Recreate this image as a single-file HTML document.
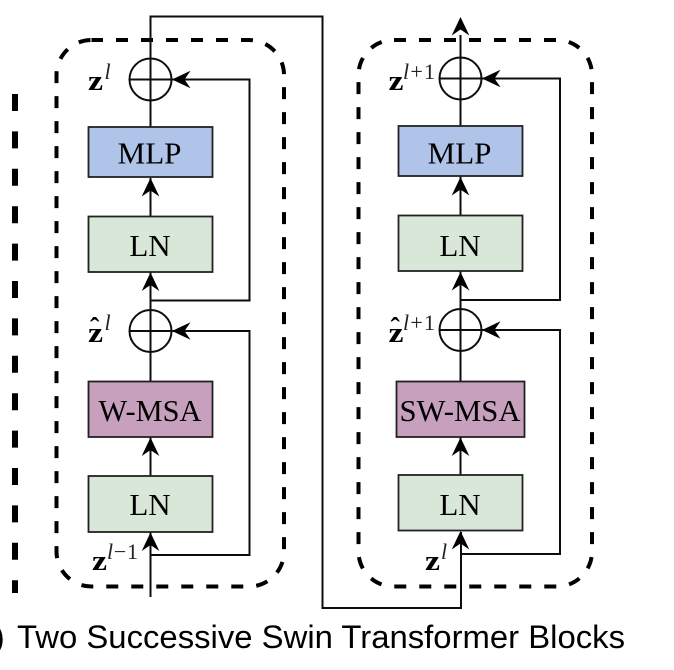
<!DOCTYPE html>
<html>
<head>
<meta charset="utf-8">
<style>
html,body{margin:0;padding:0;background:#fff}
svg{display:block}
.b{stroke:#222;stroke-width:1.8}
.t{font-family:"Liberation Serif",serif;font-size:31px;text-anchor:middle;fill:#000}
.z{font-family:"Liberation Serif",serif;font-size:28px;font-weight:bold;fill:#000}
.s{font-family:"Liberation Serif",serif;font-size:22px;fill:#222}
.i{font-style:italic}
.l{fill:none;stroke:#111;stroke-width:2}
.d{fill:none;stroke:#000;stroke-width:4;stroke-dasharray:12 13}
</style>
</head>
<body>
<svg width="674" height="670" viewBox="0 0 674 670" xmlns="http://www.w3.org/2000/svg">
<defs>
<path id="u" d="M0 0L8.8 18.5L0 12.5L-8.8 18.5Z" fill="#000"/>
<path id="h" d="M0 0L18.5 -8.8L12.5 0L18.5 8.8Z" fill="#000"/>
<filter id="f" x="-2%" y="-2%" width="104%" height="104%"><feGaussianBlur stdDeviation="0.35"/></filter>
</defs>
<rect width="674" height="670" fill="#fff"/>
<g filter="url(#f)">

<!-- Outer left dashed -->
<path d="M15 94V593" fill="none" stroke="#000" stroke-width="6" stroke-dasharray="17 20.4"/>

<!-- Dashed containers -->
<rect x="56.5" y="40" width="227.5" height="546.5" rx="35" class="d" stroke-dashoffset="0.5"/>
<rect x="358.5" y="40" width="233.5" height="546.5" rx="35" class="d" stroke-dashoffset="-0.5"/>

<!-- Connectors -->
<path class="l" d="M150.5 127V16.5H322.5V608H461V532"/>
<path class="l" d="M150.5 216V178M150.5 476V437M150.5 597V532M150.5 381V272"/>
<path class="l" d="M172 79.5H249.5V300.5H150.5"/>
<path class="l" d="M172 331H249.5V555H150.5"/>
<path class="l" d="M460.5 126V35M460.5 215V176M460.5 475V437M460.5 381V271"/>
<path class="l" d="M482 78.5H560V300H460.5"/>
<path class="l" d="M482 330H560V554H460.5"/>

<!-- Boxes left -->
<rect x="88.5" y="127" width="124" height="50" fill="#afc4e8" class="b"/>
<rect x="88.5" y="216.5" width="124" height="55.5" fill="#d9e7d8" class="b"/>
<rect x="88.5" y="381.5" width="124" height="55.5" fill="#c6a0bd" class="b"/>
<rect x="88.5" y="476" width="124" height="56" fill="#d9e7d8" class="b"/>
<!-- Boxes right -->
<rect x="398.5" y="126" width="124" height="50" fill="#afc4e8" class="b"/>
<rect x="398.5" y="215.5" width="124" height="55.5" fill="#d9e7d8" class="b"/>
<rect x="396.5" y="381.5" width="128" height="55.5" fill="#c6a0bd" class="b"/>
<rect x="398.5" y="475" width="124" height="55.5" fill="#d9e7d8" class="b"/>

<!-- Box labels -->
<text x="149.5" y="163.5" class="t">MLP</text>
<text x="150" y="256" class="t">LN</text>
<text x="150" y="421" textLength="103" lengthAdjust="spacingAndGlyphs" class="t">W-MSA</text>
<text x="150" y="515" class="t">LN</text>
<text x="459.5" y="163.5" class="t">MLP</text>
<text x="460" y="256" class="t">LN</text>
<text x="460" y="421" textLength="121" lengthAdjust="spacingAndGlyphs" class="t">SW-MSA</text>
<text x="460" y="515" class="t">LN</text>

<!-- Adders -->
<g fill="none" stroke="#111" stroke-width="2">
<circle cx="150.5" cy="79.5" r="21"/><path d="M129.5 79.5H171.5M150.5 58.5V100.5"/>
<circle cx="150.5" cy="331" r="21"/><path d="M129.5 331H171.5M150.5 310V352"/>
<circle cx="460.5" cy="78.5" r="21"/><path d="M439.5 78.5H481.5M460.5 57.5V99.5"/>
<circle cx="460.5" cy="330" r="21"/><path d="M439.5 330H481.5M460.5 309V351"/>
</g>

<!-- Arrowheads -->
<use href="#u" x="150.5" y="178"/>
<use href="#u" x="150.5" y="272.5"/>
<use href="#u" x="150.5" y="437.5"/>
<use href="#u" x="150.5" y="532.5"/>
<use href="#u" x="460.5" y="17"/>
<use href="#u" x="460.5" y="177"/>
<use href="#u" x="460.5" y="272"/>
<use href="#u" x="460.5" y="437.5"/>
<use href="#u" x="460.5" y="531"/>
<use href="#h" x="172" y="79.5"/>
<use href="#h" x="172" y="331"/>
<use href="#h" x="482" y="78.5"/>
<use href="#h" x="482" y="330"/>

<!-- Math labels -->
<text x="88" y="90" class="z" textLength="15" lengthAdjust="spacingAndGlyphs">z</text>
<text x="104.5" y="79" class="s i">l</text>

<text x="88" y="342" class="z" textLength="15" lengthAdjust="spacingAndGlyphs">z</text>
<text x="90" y="337" class="z">ˆ</text>
<text x="104.5" y="330" class="s i">l</text>

<text x="92" y="570" class="z" textLength="15" lengthAdjust="spacingAndGlyphs">z</text>
<text x="107" y="559" class="s" textLength="31" lengthAdjust="spacing"><tspan class="i">l</tspan>−1</text>

<text x="388.5" y="90" class="z" textLength="15" lengthAdjust="spacingAndGlyphs">z</text>
<text x="403" y="79" class="s" textLength="32" lengthAdjust="spacing"><tspan class="i">l</tspan>+1</text>

<text x="388.5" y="342" class="z" textLength="15" lengthAdjust="spacingAndGlyphs">z</text>
<text x="390.5" y="337" class="z">ˆ</text>
<text x="403" y="330" class="s" textLength="32" lengthAdjust="spacing"><tspan class="i">l</tspan>+1</text>

<text x="425" y="570" class="z" textLength="15" lengthAdjust="spacingAndGlyphs">z</text>
<text x="441" y="559" class="s i">l</text>

<!-- Caption -->
<text x="-6" y="648" font-family="'Liberation Sans',sans-serif" font-size="32" fill="#000">)</text>
<text x="17" y="648" font-family="'Liberation Sans',sans-serif" font-size="32" fill="#000" textLength="608" lengthAdjust="spacingAndGlyphs">Two Successive Swin Transformer Blocks</text>
</g>
</svg>
</body>
</html>
